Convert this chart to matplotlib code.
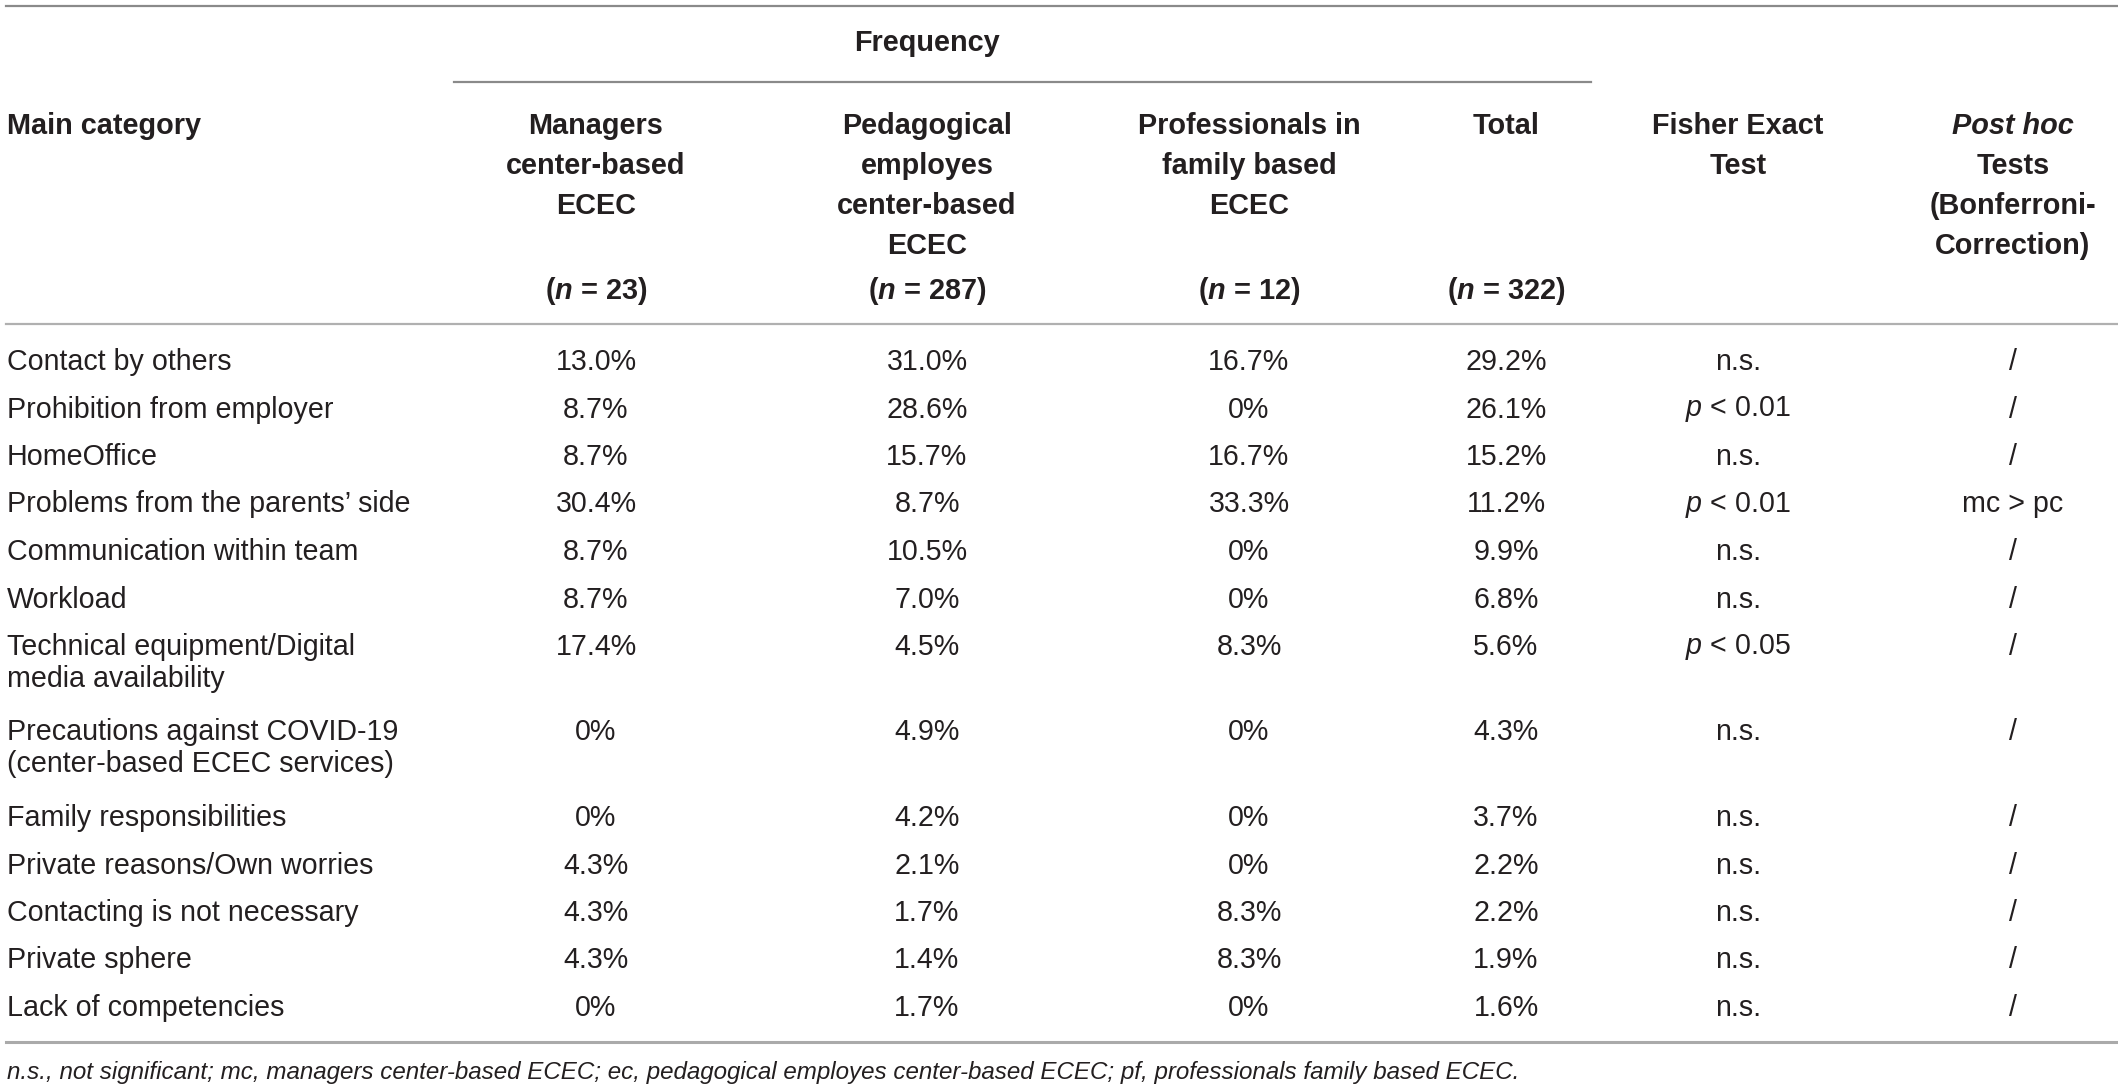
import matplotlib
matplotlib.use("Agg")
import matplotlib.pyplot as plt

plt.rcParams['font.family'] = ['Liberation Sans', 'DejaVu Sans']
plt.rcParams['mathtext.fontset'] = 'custom'
plt.rcParams['mathtext.rm'] = 'Liberation Sans'
plt.rcParams['mathtext.it'] = 'Liberation Sans:italic'
plt.rcParams['mathtext.bf'] = 'Liberation Sans:bold'
plt.rcParams['mathtext.bfit'] = 'Liberation Sans:italic:bold'

# table content
categories = [
    "Contact by others",
    "Prohibition from employer",
    "HomeOffice",
    "Problems from the parents\u2019 side",
    "Communication within team",
    "Workload",
    "Technical equipment/Digital\nmedia availability",
    "Precautions against COVID-19\n(center-based ECEC services)",
    "Family responsibilities",
    "Private reasons/Own worries",
    "Contacting is not necessary",
    "Private sphere",
    "Lack of competencies",
]
managers = ["13.0%", "8.7%", "8.7%", "30.4%", "8.7%", "8.7%", "17.4%",
            "0%", "0%", "4.3%", "4.3%", "4.3%", "0%"]
pedagogical = ["31.0%", "28.6%", "15.7%", "8.7%", "10.5%", "7.0%", "4.5%",
               "4.9%", "4.2%", "2.1%", "1.7%", "1.4%", "1.7%"]
family_based = ["16.7%", "0%", "16.7%", "33.3%", "0%", "0%", "8.3%",
                "0%", "0%", "0%", "8.3%", "8.3%", "0%"]
total = ["29.2%", "26.1%", "15.2%", "11.2%", "9.9%", "6.8%", "5.6%",
         "4.3%", "3.7%", "2.2%", "2.2%", "1.9%", "1.6%"]
fisher = ["n.s.", "p < 0.01", "n.s.", "p < 0.01", "n.s.", "n.s.", "p < 0.05",
          "n.s.", "n.s.", "n.s.", "n.s.", "n.s.", "n.s."]
posthoc = ["/", "/", "/", "mc > pc", "/", "/", "/", "/", "/", "/", "/", "/", "/"]

headers = [
    ["Managers", "center-based", "ECEC"],
    ["Pedagogical", "employes", "center-based", "ECEC"],
    ["Professionals in", "family based", "ECEC"],
    ["Total"],
    ["Fisher Exact", "Test"],
    ["Post hoc", "Tests", "(Bonferroni-", "Correction)"],
]
group_sizes = ["23", "287", "12", "322"]
footnote = ("n.s., not significant; mc, managers center-based ECEC; ec, pedagogical "
            "employes center-based ECEC; pf, professionals family based ECEC.")

W, H = 2118, 1090
fig = plt.figure(figsize=(W / 100, H / 100), dpi=100)
ax = fig.add_axes([0, 0, 1, 1])
ax.set_xlim(0, W)
ax.set_ylim(H, 0)
ax.axis('off')

txt = '#231f20'
fs = 20.6
fsb = 20.8
col_x = [596, 927, 1249, 1506, 1738, 2013]
left = 7

# rules
ax.plot([6, W], [6, 6], color='#8a8a8a', lw=1.6)
ax.plot([454, 1591], [82, 82], color='#8a8a8a', lw=1.6)
ax.plot([6, W], [324, 324], color='#b0b0b0', lw=1.6)
ax.plot([6, W], [1041.5, 1041.5], color='#aaaaaa', lw=2.2)

# header
ax.text(927, 43, "Frequency", ha='center', va='center', fontsize=fsb,
        fontweight='bold', color=txt)
ax.text(left, 126, "Main category", ha='left', va='center', fontsize=fsb,
        fontweight='bold', color=txt)
for x, lines in zip(col_x, headers):
    for i, line in enumerate(lines):
        style = 'italic' if line == "Post hoc" else 'normal'
        ax.text(x, 126 + i * 40, line, ha='center', va='center', fontsize=fsb,
                fontweight='bold', fontstyle=style, color=txt)
for x, n in zip(col_x, group_sizes):
    ax.text(x, 291, "(" + r"$\mathbfit{n}$" + " = " + n + ")", ha='center',
            va='center', fontsize=fsb, fontweight='bold', color=txt)

# body
y = 362
for i, cat in enumerate(categories):
    lines = cat.split("\n")
    for j, line in enumerate(lines):
        ax.text(left, y + j * 32, line, ha='left', va='center', fontsize=fs,
                color=txt)
    vals = [managers[i], pedagogical[i], family_based[i], total[i],
            fisher[i].replace("p <", r"$\it{p}$ <"), posthoc[i]]
    for x, v in zip(col_x, vals):
        ax.text(x, y, v, ha='center', va='center', fontsize=fs, color=txt)
    y += 47.5 + (len(lines) - 1) * 38

ax.text(left, 1072, footnote, ha='left', va='center', fontsize=17.4,
        fontstyle='italic', color=txt)

fig.savefig("out.png", dpi=100)
